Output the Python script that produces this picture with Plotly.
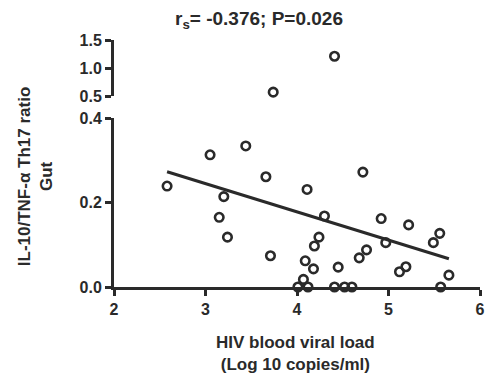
import plotly.graph_objects as go

# Lower panel data (ratio 0-0.4)
x_low = [2.58, 3.05, 3.44, 3.66, 3.20, 3.15, 3.24, 3.71,
         4.11, 4.72, 4.30, 4.92, 5.22, 5.56, 5.49, 4.24, 4.19, 4.97, 4.76, 4.68,
         4.09, 4.18, 4.45, 5.19, 5.12, 5.66, 4.07,
         4.01, 4.12, 4.41, 4.52, 4.60, 5.57]
y_low = [0.239, 0.313, 0.334, 0.261, 0.214, 0.165, 0.118, 0.074,
         0.231, 0.272, 0.168, 0.162, 0.147, 0.127, 0.105, 0.118, 0.097, 0.105, 0.088, 0.069,
         0.062, 0.043, 0.047, 0.048, 0.036, 0.028, 0.018,
         0.0, 0.0, 0.0, 0.0, 0.0, 0.0]

# Upper panel data (ratio 0.5-1.5)
x_high = [4.41, 3.74]
y_high = [1.21, 0.57]

# Regression line endpoints
fit_x = [2.58, 5.66]
fit_y = [0.273, 0.067]

x_ticks = [2, 3, 4, 5, 6]
y_low_ticks = [0.0, 0.2, 0.4]
y_low_labels = ["0.0", "0.2", "0.4"]
y_high_ticks = [0.5, 1.0, 1.5]
y_high_labels = ["0.5", "1.0", "1.5"]

INK = "#2a2a2a"
FONT = "Liberation Sans, Arial, sans-serif"

marker = dict(symbol="circle-open", size=8.5, color=INK, line=dict(width=2.6, color=INK))

fig = go.Figure()
fig.add_trace(go.Scatter(x=fit_x, y=fit_y, mode="lines", line=dict(color=INK, width=3),
                         xaxis="x", yaxis="y", showlegend=False, hoverinfo="skip"))
fig.add_trace(go.Scatter(x=x_low, y=y_low, mode="markers", marker=marker,
                         xaxis="x", yaxis="y", cliponaxis=False, showlegend=False))
fig.add_trace(go.Scatter(x=x_high, y=y_high, mode="markers", marker=marker,
                         xaxis="x", yaxis="y2", cliponaxis=False, showlegend=False))

tickfont = dict(family=FONT, size=16, color=INK, weight="bold")
axis_common = dict(showgrid=False, zeroline=False, showline=True, linecolor=INK, linewidth=3,
                   ticks="outside", ticklen=6, tickwidth=2.5, tickcolor=INK, tickfont=tickfont)

fig.update_layout(
    width=490, height=377,
    margin=dict(l=114, r=5, t=40, b=90),
    paper_bgcolor="white", plot_bgcolor="white",
    xaxis=dict(range=[2, 6], tickvals=x_ticks, ticktext=[str(v) for v in x_ticks],
               anchor="y", **axis_common),
    yaxis=dict(range=[0, 0.4], domain=[0, 0.684], tickvals=y_low_ticks, ticktext=y_low_labels,
               anchor="x", **axis_common),
    yaxis2=dict(range=[0.5, 1.5], domain=[0.773, 1], tickvals=y_high_ticks, ticktext=y_high_labels,
                anchor="x", **axis_common),
    annotations=[
        dict(text="r<sub>s</sub>= -0.376; P=0.026", xref="paper", yref="paper",
             x=0.395, y=1.081, xanchor="center", yanchor="middle", showarrow=False,
             font=dict(family=FONT, size=19, color=INK, weight="bold")),
        dict(text="IL-10/TNF-α Th17 ratio<br>Gut", xref="paper", yref="paper",
             x=-0.2156, y=0.449, xanchor="center", yanchor="middle", textangle=-90,
             showarrow=False, font=dict(family=FONT, size=17, color=INK, weight="bold")),
        dict(text="HIV blood viral load<br>(Log 10 copies/ml)", xref="paper", yref="paper",
             x=0.4946, y=-0.271, xanchor="center", yanchor="middle", showarrow=False,
             font=dict(family=FONT, size=17, color=INK, weight="bold")),
    ],
)

fig.write_html("out.html")
